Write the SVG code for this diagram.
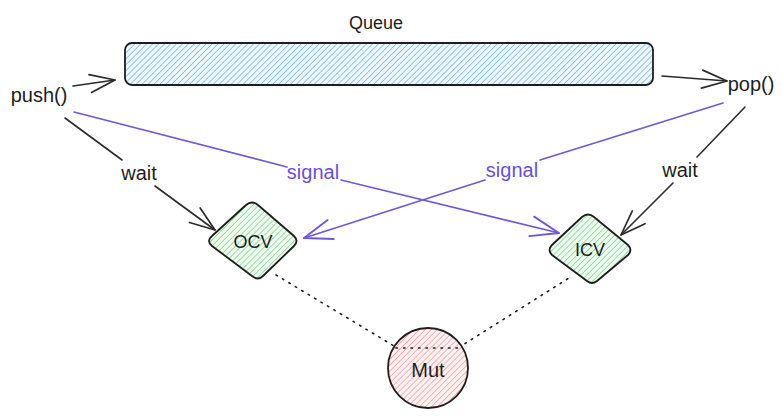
<svg xmlns="http://www.w3.org/2000/svg" width="783" height="420" viewBox="0 0 783 420">
<style>
text{font-family:"Liberation Sans","DejaVu Sans",sans-serif;fill:#1e1e1e;text-anchor:middle;dominant-baseline:central}
.lbl{font-size:20px}
.sig{fill:#6a4fd6}
.node{stroke:#1e1e1e;stroke-width:1.8;stroke-linejoin:round}
.edge{fill:none;stroke:#2b2b2b;stroke-width:1.6;stroke-linecap:round}
.edge.p{stroke:#7058db;stroke-width:1.7}
.dot{fill:none;stroke:#1e1e1e;stroke-width:1.6;stroke-dasharray:1.5 6;stroke-linecap:round}
</style>
<defs>
<pattern id="hBlue" width="4.2" height="4.2" patternUnits="userSpaceOnUse" patternTransform="rotate(45)"><rect width="4.2" height="4.2" fill="#eef7ff"/><line x1="0" y1="0" x2="0" y2="4.2" stroke="#4a9fe8" stroke-width="1.1"/></pattern>
<pattern id="hGreen" width="4.2" height="4.2" patternUnits="userSpaceOnUse" patternTransform="rotate(45)"><rect width="4.2" height="4.2" fill="#eefbef"/><line x1="0" y1="0" x2="0" y2="4.2" stroke="#5cc46e" stroke-width="1.1"/></pattern>
<pattern id="hRed" width="4.2" height="4.2" patternUnits="userSpaceOnUse" patternTransform="rotate(45)"><rect width="4.2" height="4.2" fill="#fff1f1"/><line x1="0" y1="0" x2="0" y2="4.2" stroke="#ee7f7f" stroke-width="1.1"/></pattern>
<marker id="ahK" viewBox="-30 -14 32 28" refX="0" refY="0" markerWidth="32" markerHeight="28" markerUnits="userSpaceOnUse" orient="auto"><path d="M-25,-9 L0,0 L-25,9" fill="none" stroke="#2b2b2b" stroke-width="1.7" stroke-linecap="round" stroke-linejoin="round"/></marker>
<marker id="ahP" viewBox="-30 -14 32 28" refX="0" refY="0" markerWidth="32" markerHeight="28" markerUnits="userSpaceOnUse" orient="auto"><path d="M-28,-10 L0,0 L-28,10" fill="none" stroke="#7058db" stroke-width="1.9" stroke-linecap="round" stroke-linejoin="round"/></marker>
</defs>

<g id="connectors">
  <path class="edge" d="M73,86 L115,80" marker-end="url(#ahK)"/>
  <path class="edge" d="M662,76 L727,81" marker-end="url(#ahK)"/>
  <path class="edge" d="M65,118 L122,160"/>
  <path class="edge" d="M155,186 L215,230" marker-end="url(#ahK)"/>
  <text class="lbl" x="139" y="173">wait</text>
  <path class="edge" d="M745,107 L697,157"/>
  <path class="edge" d="M673,183 L621,235" marker-end="url(#ahK)"/>
  <text class="lbl" x="680" y="170">wait</text>
  <path class="edge p" d="M74,112 L287,167"/>
  <path class="edge p" d="M341,180 L559,233" marker-end="url(#ahP)"/>
  <text class="lbl sig" x="313" y="172">signal</text>
  <path class="edge p" d="M723,103 L540,160"/>
  <path class="edge p" d="M485,180 L304,238" marker-end="url(#ahP)"/>
  <text class="lbl sig" x="512" y="170">signal</text>
  <path class="dot" d="M276,275 L394,346 L458,348 L569,278"/>
</g>

<g id="queue">
  <rect class="node" x="125" y="43" width="528" height="42" rx="7" fill="url(#hBlue)"/>
  <text class="lbl" x="376" y="23" style="font-size:18px">Queue</text>
</g>
<g id="push">
  <text class="lbl" x="39" y="95">push()</text>
</g>
<g id="pop">
  <text class="lbl" x="751" y="84">pop()</text>
</g>
<g id="ocv">
  <path class="node" fill="url(#hGreen)" d="M212,236 L246,205 Q252,200 258,205 L294,236 Q299,241 294,246 L263,276 Q258,281 252,276 L212,246 Q206,241 212,236 Z"/>
  <text class="lbl" x="253" y="242" style="font-size:18px">OCV</text>
</g>
<g id="icv">
  <path class="node" fill="url(#hGreen)" d="M552,245 L582,217 Q588,212 594,217 L628,245 Q633,250 628,255 L597,281 Q592,285 587,281 L552,255 Q547,250 552,245 Z"/>
  <text class="lbl" x="590" y="250" style="font-size:18px">ICV</text>
</g>
<g id="mut">
  <circle class="node" cx="428" cy="368" r="40" fill="url(#hRed)"/>
  <path class="dot" d="M396,348 L458,348"/>
  <text class="lbl" x="428" y="370">Mut</text>
</g>
</svg>
